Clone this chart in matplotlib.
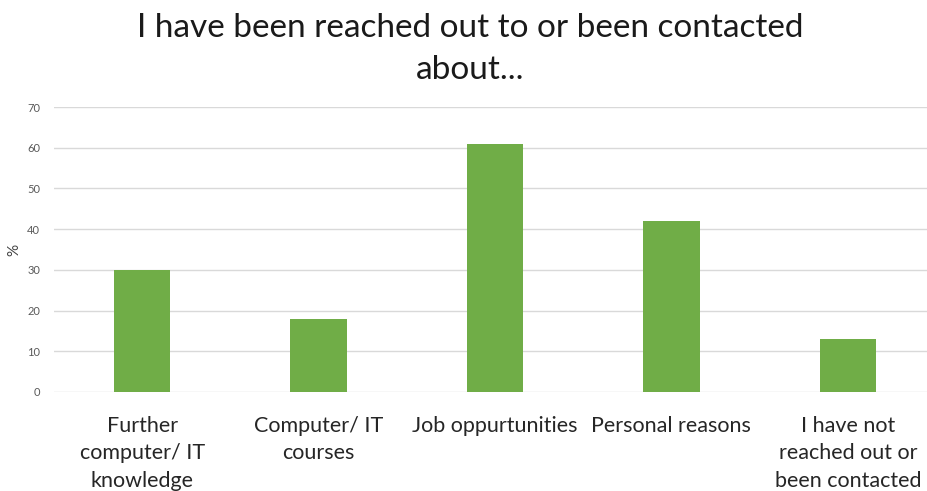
import matplotlib
matplotlib.use("Agg")
import matplotlib.pyplot as plt

categories = [
    "Further\ncomputer/ IT\nknowledge",
    "Computer/ IT\ncourses",
    "Job oppurtunities",
    "Personal reasons",
    "I have not\nreached out or\nbeen contacted",
]
values = [30, 18, 61, 42, 13]
yticks = [0, 10, 20, 30, 40, 50, 60, 70]
title = "I have been reached out to or been contacted\nabout..."

plt.rcParams["font.family"] = ["Lato", "DejaVu Sans"]

fig = plt.figure(figsize=(9.28, 4.91), dpi=100)
W, H = 928, 491
left, right = 54 / W, 936 / W
bottom, top = 1 - 392 / H, 1 - 107 / H
ax = fig.add_axes([left, bottom, right - left, top - bottom])

x = range(len(categories))
ax.bar(x, values, width=0.32, color="#70AD47", zorder=3)

ax.set_xlim(-0.5, len(categories) - 0.5)
ax.set_ylim(0, 70)
ax.set_yticks(yticks)
ax.set_yticklabels([str(t) for t in yticks], fontsize=8, color="#595959")
ax.grid(axis="y", color="#D9D9D9", linewidth=1, zorder=0)
for s in ax.spines.values():
    s.set_visible(False)
ax.tick_params(axis="both", length=0)
ax.tick_params(axis="y", pad=10)

ax.set_xticks(list(x))
ax.set_xticklabels(categories, fontsize=15.5, color="#262626", linespacing=1.47)
ax.tick_params(axis="x", pad=17)

ax.set_ylabel("%", fontsize=11, color="#404040", labelpad=4)

fig.text(470 / W, 1 - 13 / H, title, ha="center", va="top", fontsize=24,
         color="#1a1a1a", linespacing=1.5)

fig.savefig("out.png", dpi=100)
